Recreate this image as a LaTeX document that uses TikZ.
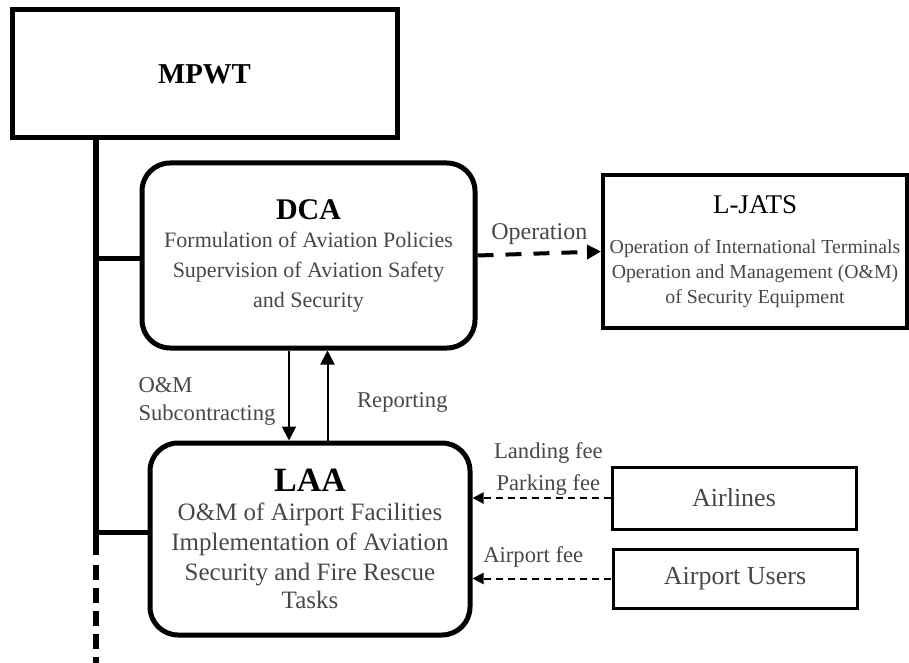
\documentclass[tikz,border=0pt]{standalone}
\usepackage{fontspec}
\setmainfont{Liberation Serif}
\usetikzlibrary{positioning,arrows.meta}
\colorlet{bodygray}{black!72}

\begin{document}
\begin{tikzpicture}[x=0.5pt,y=-0.5pt,>={Triangle[length=7pt,width=7pt]},
		font=\fontsize{11.3}{14}\selectfont,
		orgbox/.style={draw,line width=2.5pt,align=center,inner sep=1pt},
		roundbox/.style={orgbox,rounded corners=14pt},
		sidebox/.style={draw,line width=1.5pt,align=center,inner sep=1pt,font=\fontsize{13}{15}\selectfont,text=bodygray,minimum width=122pt},
		feeline/.style={dash pattern=on 3.5pt off 2.5pt,line width=1pt,-{Triangle[length=5.5pt,width=5.5pt]}},
		lbl/.style={text=bodygray},
	]
		\useasboundingbox (0,0) rectangle (909,663);
		\node[orgbox,minimum width=192.5pt,minimum height=64pt,font=\bfseries\fontsize{14.4}{16}\selectfont] (mpwt) at (204.5,74) {MPWT};
		\node[roundbox,minimum width=166.5pt,minimum height=92.5pt,font=\fontsize{11}{15}\selectfont,text=bodygray] (dca) at (308.5,255.5)
			{{\color{black}\bfseries\fontsize{15}{15}\selectfont DCA}\\[-1pt]Formulation of Aviation Policies\\Supervision of Aviation Safety\\and Security};
		\node[draw,line width=2pt,align=center,inner sep=0.5pt,minimum width=152pt,minimum height=76.5pt,font=\fontsize{9.9}{12.5}\selectfont,text=bodygray] (ljats) at (755,251.5)
			{{\color{black}\fontsize{13.5}{12.5}\selectfont L-JATS}\\[7.5pt]Operation of International Terminals\\Operation and Management (O\&M)\\of Security Equipment};
		\node[roundbox,minimum width=160pt,minimum height=96pt,font=\fontsize{12.5}{15}\selectfont,text=bodygray] (laa) at (310,539)
			{{\color{black}\bfseries\fontsize{17}{15}\selectfont LAA}\\[-0.5pt]O\&M of Airport Facilities\\Implementation of Aviation\\Security and Fire Rescue\\[-1pt]Tasks};
		\node[sidebox,minimum height=31pt] (airlines) at (734,498) {Airlines};
		\node[sidebox,minimum height=29.5pt] (users) at (735,578.5) {Airport Users};
%		trunk from MPWT
		\coordinate (trunktop) at (96,138);
		\coordinate (trunkend) at (96,555);
		\coordinate (trunkfoot) at (96,663);
		\coordinate (jdca) at (96,258);
		\coordinate (jlaa) at (96,532);
		\draw[line width=3pt] (trunktop) -- (trunkend);
		\draw[line width=3pt,dash pattern=on 7.5pt off 4pt] ([yshift=-5pt]trunkend) -- (trunkfoot);
		\draw[line width=2.5pt] (jdca) -- (jdca -| dca.west);
		\draw[line width=2.5pt] (jlaa) -- (jlaa -| laa.west);
		\coordinate (dn) at ([xshift=-9.75pt]dca.south);
		\coordinate (up) at ([xshift=8.75pt]laa.north);
		\path[->,line width=1pt]
			(dn) edge node[pos=.57,left=3pt,lbl,align=left] {O\&M\\Subcontracting} (dn |- laa.north)
			(up) edge node[pos=.42,right=11pt,lbl] {Reporting} (up |- dca.south)
		;
		\draw[line width=2pt,dash pattern=on 8pt off 6pt,->] (dca.east) -- node[above,lbl,font=\fontsize{12}{14}\selectfont] {Operation} (ljats.west);
		\draw[feeline] (airlines.west) -- node[pos=.45,above,inner sep=1pt,lbl,align=center,font=\fontsize{11.3}{16}\selectfont] {Landing fee\\Parking fee} (airlines.west -| laa.east);
		\draw[feeline] (users.west -| airlines.west) -- node[pos=.56,above=2pt,lbl] {Airport fee} (users.west -| laa.east);
	\end{tikzpicture}
\end{document}
